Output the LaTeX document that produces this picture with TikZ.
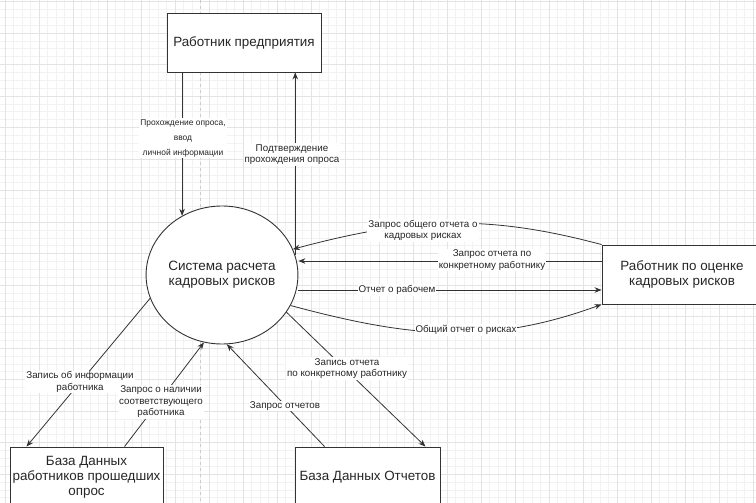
\documentclass[tikz,border=0pt]{standalone}
\usepackage{fontspec}
\setmainfont{Liberation Sans}
\usetikzlibrary{arrows.meta,shapes.geometric}

\begin{document}
\begin{tikzpicture}[x=1pt,y=1pt,
  block/.style={draw=black!80,line width=0.9pt,fill=white,align=center,text=black!85,font=\fontsize{13.4}{15}\selectfont},
  bubble/.style={ellipse,draw=black!80,line width=0.9pt,fill=white,align=center,text=black!85,font=\fontsize{13.5}{15}\selectfont},
  flow/.style={draw=black!80,line width=0.8pt,-{Stealth[length=7pt,width=5.5pt]}},
  lbl/.style={fill=white,inner sep=1pt,align=center,text=black!85,font=\fontsize{9.8}{11.5}\selectfont},
  gridminor/.style={draw=black!5,line width=0.5pt},
  gridmajor/.style={draw=black!11,line width=0.6pt}]
\tikzstyle{every node}+=[inner sep=0pt]
\clip (0,0) rectangle (756,-503);
\fill [white] (0,0) rectangle (756,-503);
\begin{scope}[shift={(5,-1.5)}]
\draw [gridminor,xstep=8.5,ystep=7.875] (-34,31.5) grid (782,-535);
\draw [gridmajor,xstep=34,ystep=31.5] (-34,31.5) grid (782,-535);
\end{scope}
\draw [black!20,dashed,line width=0.6pt] (200,0) -- (200,-503);
\node [block,minimum width=154,minimum height=59] (worker) at (244,-42.5) {Работник предприятия};
\node [bubble,minimum width=150,minimum height=138] (sys) at (222,-275) {Система расчета\\кадровых рисков};
\node [block,minimum width=160,minimum height=59] (assessor) at (682,-274.5) {Работник по оценке\\кадровых рисков};
\node [block,minimum width=153,minimum height=60] (dbworkers) at (86.5,-477) {База Данных\\работников прошедших\\опрос};
\node [block,minimum width=145,minimum height=60] (dbreports) at (367.5,-477) {База Данных Отчетов};
\draw [flow] (sys.124 |- worker.south) -- (sys.124);
\draw [flow] (sys.15) -- (sys.15 |- worker.south);
\draw [flow] (assessor.north west) to [out=165,in=15] (sys.20);
\draw [flow] ([yshift=13.5]assessor.west) -- ([yshift=13.5]assessor.west -| sys.east);
\draw [flow] ([yshift=-15]sys.east) -- ([yshift=-15]sys.east -| assessor.west);
\draw [flow] (sys.-24) to [out=-15,in=200] (assessor.south west);
\draw [flow] (sys.198) -- ([xshift=17]dbworkers.north west);
\draw [flow] ([xshift=115]dbworkers.north west) -- (sys.255);
\draw [flow] ([xshift=30]dbreports.north west) -- (sys.274);
\draw [flow] (sys.-30) -- ([xshift=-15]dbreports.north east);
\node [lbl,font=\fontsize{8.4}{15}\selectfont] (lblsurvey) at (183,-138) {Прохождение опроса,\\ввод\\личной информации};
\node [lbl] (lblconfirm) at (292,-154.5) {Подтверждение\\прохождения опроса};
\node [lbl] (lblgeneralreq) at (423,-230.5) {Запрос общего отчета о\\кадровых рисках};
\node [lbl] (lblworkerreq) at (492,-260) {Запрос отчета по\\конкретному работнику};
\node [lbl] (lblworkerrep) at (397,-290) {Отчет о рабочем};
\node [lbl] (lblgeneralrep) at (466,-330) {Общий отчет о рисках};
\node [lbl] (lblrecordinfo) at (80,-382) {Запись об информации\\работника};
\node [lbl] (lblcheck) at (161,-402) {Запрос о наличии\\соответствующего\\работника};
\node [lbl] (lblreportsreq) at (285,-406) {Запрос отчетов};
\node [lbl] (lblrecordrep) at (347,-368.5) {Запись отчета\\по конкретному работнику};
\end{tikzpicture}
\end{document}
